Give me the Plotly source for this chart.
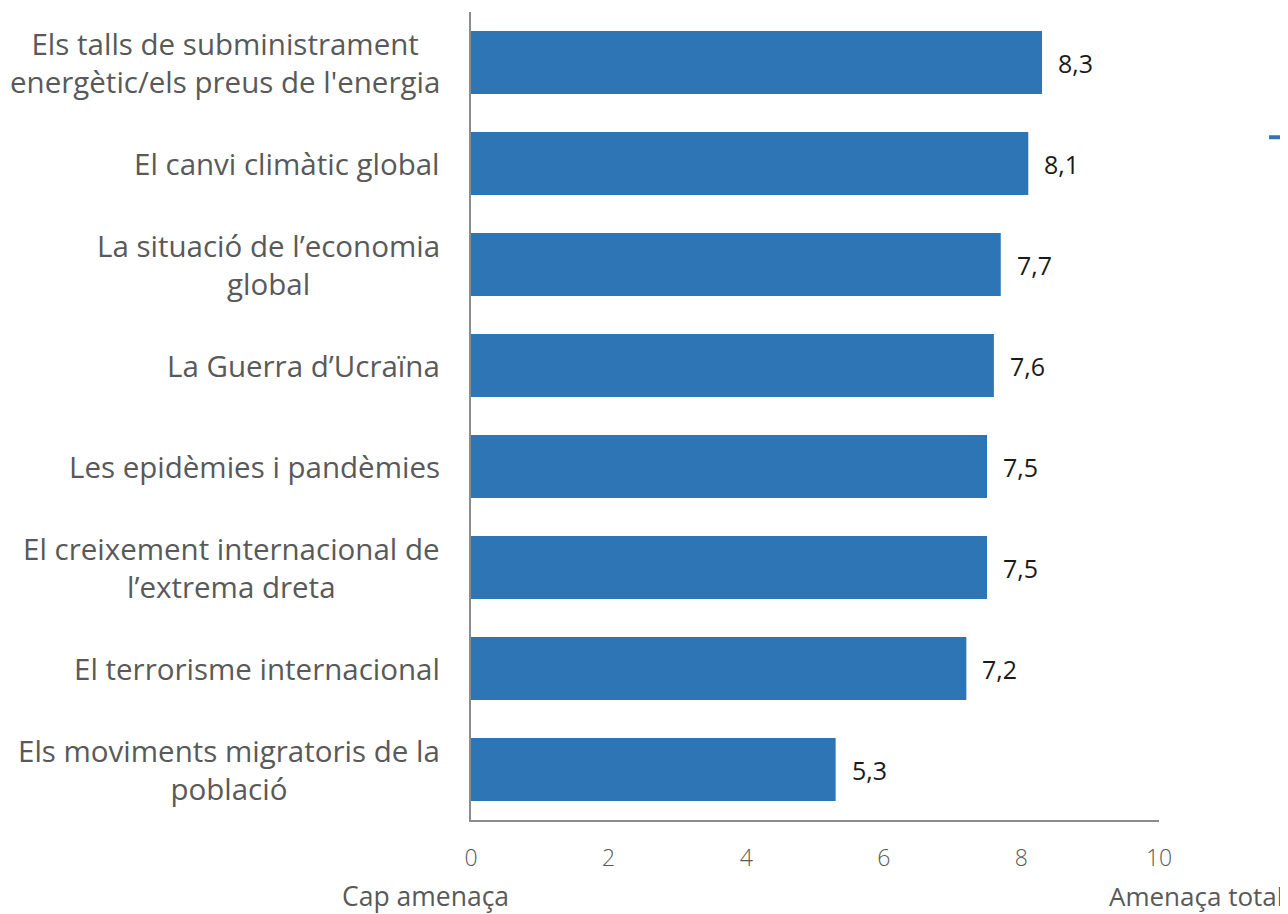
import plotly.graph_objects as go

categories = [
    "Els talls de subministrament<br>energètic/els preus de l'energia",
    "El canvi climàtic global",
    "La situació de l’economia<br>global",
    "La Guerra d’Ucraïna",
    "Les epidèmies i pandèmies",
    "El creixement internacional de<br>l’extrema dreta",
    "El terrorisme internacional",
    "Els moviments migratoris de la<br>població",
]
values = [8.3, 8.1, 7.7, 7.6, 7.5, 7.5, 7.2, 5.3]
value_labels = ["8,3", "8,1", "7,7", "7,6", "7,5", "7,5", "7,2", "5,3"]
x_ticks = [0, 2, 4, 6, 8, 10]

FONT = "Open Sans"
BAR = "#2E75B6"
AXIS = "#8c8c8c"
TXT = "#595959"

fig = go.Figure()
fig.add_trace(go.Bar(
    x=values, y=categories, orientation="h",
    marker=dict(color=BAR, line=dict(width=0)),
    hoverinfo="skip", showlegend=False,
))

# value labels
for v, c, t in zip(values, categories, value_labels):
    fig.add_annotation(x=v, y=c, text=t, xref="x", yref="y", showarrow=False,
                       xanchor="left", yanchor="middle", xshift=14,
                       font=dict(family=FONT, size=25, color="#1a1a1a"))

# category labels, centre-aligned blocks right-anchored to the axis
for c in categories:
    fig.add_annotation(x=0, y=c, xref="x domain", yref="y", showarrow=False,
                       xanchor="right", yanchor="middle", align="center", xshift=-29,
                       text=c, font=dict(family=FONT, size=29.5, color=TXT))

fig.add_annotation(x=0, y=0, xref="x domain", yref="y domain", yshift=-76,
                   text="Cap amenaça", showarrow=False, xanchor="center", yanchor="middle",
                   xshift=-46, font=dict(family=FONT, size=26.5, color=TXT))
fig.add_annotation(x=1, y=0, xref="x domain", yref="y domain", yshift=-76,
                   text="Amenaça total", showarrow=False, xanchor="right", yanchor="middle",
                   xshift=126, font=dict(family=FONT, size=26, color=TXT))

# cropped legend marker fragment at the right edge
fig.add_shape(type="line", xref="paper", yref="paper",
              x0=1.16, x1=1.2, y0=0.845, y1=0.845,
              line=dict(color=BAR, width=4))

fig.update_layout(
    width=1280, height=906,
    margin=dict(l=463, r=129, t=4, b=94),
    paper_bgcolor="white", plot_bgcolor="white",
    bargap=0.375,
    separators=",.",
    font=dict(family=FONT, color=TXT),
    xaxis=dict(range=[0, 10], tickvals=x_ticks, showgrid=False, zeroline=False,
               showline=True, linecolor=AXIS, linewidth=2,
               ticks="outside", ticklen=16, tickcolor="rgba(0,0,0,0)",
               tickfont=dict(family=FONT, size=23, color=TXT, weight=300)),
    yaxis=dict(categoryorder="array", categoryarray=categories[::-1],
               showgrid=False, zeroline=False, showline=True, linecolor=AXIS, linewidth=2,
               showticklabels=False, ticks=""),
)

fig.write_html("out.html")
